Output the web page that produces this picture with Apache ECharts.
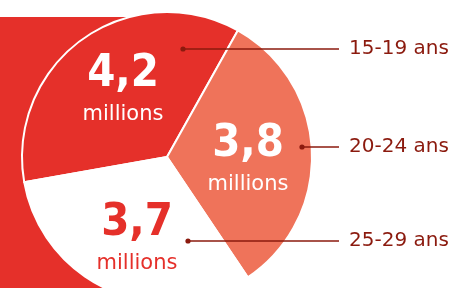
<!DOCTYPE html>
<html>
<head>
<meta charset="utf-8">
<script src="https://cdn.jsdelivr.net/npm/echarts@6/dist/echarts.min.js"></script>
<style>
  html, body { margin: 0; padding: 0; background: #fff; }
  #chart { width: 452px; height: 288px; }
</style>
</head>
<body>
<div id="chart"></div>
<script>
// data
const ageGroups = ['15-19 ans', '20-24 ans', '25-29 ans'];
const populationMillions = [4.2, 3.8, 3.7];
const unitLabel = 'millions';

// colours
const red = '#e5302a';
const salmon = '#ef735a';
const darkRed = '#8b1a0e';
const sliceColors = [red, salmon, '#ffffff'];
const valueColors = ['#ffffff', '#ffffff', red];

// layout (pixels)
const pieCenter = [167, 157];
const pieRadius = 145;
const legendX = 349;
const lineEndX = 339;
const legendRowY = [49, 147, 241];
const dotX = [183, 302, 188];
const valuePos = [[123, 90], [248, 160], [137, 239]];

const chart = echarts.init(document.getElementById('chart'));

const dots = legendRowY.map((y, i) => ({
    type: 'circle',
    shape: { cx: dotX[i], cy: y, r: 2.6 },
    style: { fill: darkRed },
    z: 100
}));

chart.setOption({
    animation: false,
    graphic: [
        {
            type: 'rect',
            shape: { x: 0, y: 17, width: pieCenter[0], height: 288 - 17 },
            style: { fill: red },
            z: -10
        },
        ...dots
    ],
    series: [
        {
            // slices + value labels
            type: 'pie',
            z: 2,
            center: pieCenter,
            radius: pieRadius,
            startAngle: 190,
            clockwise: true,
            avoidLabelOverlap: false,
            silent: true,
            itemStyle: { borderColor: '#fff', borderWidth: 2 },
            label: {
                show: true,
                position: 'inside',
                formatter: function (p) {
                    return '{n|' + p.value.toFixed(1).replace('.', ',') + '}\n{u|' + unitLabel + '}';
                },
                rich: {
                    n: {
                        fontFamily: 'DejaVu Sans Condensed',
                        fontWeight: 'bold',
                        fontSize: 45,
                        lineHeight: 50,
                        align: 'center'
                    },
                    u: {
                        fontFamily: 'DejaVu Sans',
                        fontSize: 21,
                        lineHeight: 32,
                        align: 'center'
                    }
                }
            },
            labelLine: { show: false },
            labelLayout: function (params) {
                const p = valuePos[params.dataIndex];
                return { x: p[0], y: p[1], align: 'center', verticalAlign: 'middle' };
            },
            data: ageGroups.map((name, i) => ({
                name: name,
                value: populationMillions[i],
                itemStyle: { color: sliceColors[i] },
                label: { color: valueColors[i] }
            }))
        },
        {
            // transparent copy carrying the category labels and leader lines
            type: 'pie',
            z: 5,
            center: pieCenter,
            radius: pieRadius,
            startAngle: 190,
            clockwise: true,
            avoidLabelOverlap: false,
            silent: true,
            itemStyle: { color: 'rgba(0,0,0,0)', borderWidth: 0 },
            label: {
                show: true,
                position: 'outside',
                formatter: '{b}',
                color: darkRed,
                fontFamily: 'DejaVu Sans',
                fontSize: 20
            },
            labelLine: {
                show: true,
                lineStyle: { color: darkRed, width: 1.5 }
            },
            labelLayout: function (params) {
                const i = params.dataIndex;
                const y = legendRowY[i];
                return {
                    x: legendX,
                    y: y,
                    align: 'left',
                    verticalAlign: 'middle',
                    labelLinePoints: [[dotX[i], y], [(dotX[i] + lineEndX) / 2, y], [lineEndX, y]]
                };
            },
            data: ageGroups.map((name, i) => ({
                name: name,
                value: populationMillions[i]
            }))
        }
    ]
});
</script>
</body>
</html>
